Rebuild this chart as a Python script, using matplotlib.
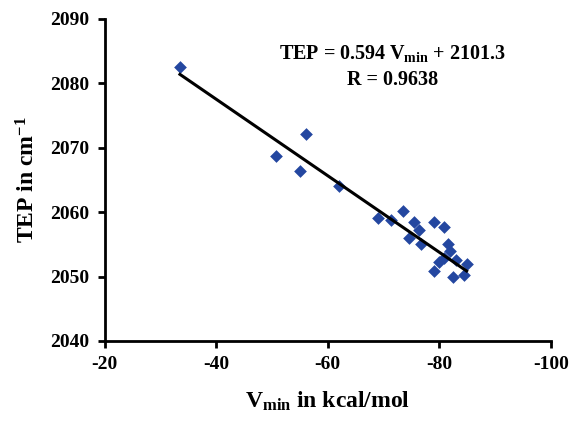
import numpy as np
import matplotlib
matplotlib.use("Agg")
import matplotlib.pyplot as plt

# V_min (kcal/mol) vs TEP (cm-1)
vmin = [-33.5, -50.7, -55.0, -56.1, -62.0, -69.0, -71.4, -73.5, -74.6, -75.4,
        -76.4, -76.8, -79.0, -80.8, -81.5, -82.0, -80.9, -80.0, -79.0, -82.5,
        -84.5, -84.9, -83.0]
tep = [2082.6, 2068.8, 2066.4, 2072.1, 2064.0, 2059.1, 2058.8, 2060.2, 2056.0, 2058.4,
       2057.2, 2055.0, 2058.4, 2057.7, 2055.0, 2053.9, 2052.9, 2052.3, 2050.8, 2050.0,
       2050.3, 2052.0, 2052.5]
slope = 0.594
intercept = 2101.3
r_value = 0.9638
xticks = [-20, -40, -60, -80, -100]
yticks = [2040, 2050, 2060, 2070, 2080, 2090]

plt.rcParams['font.family'] = 'Liberation Serif'
plt.rcParams['font.weight'] = 'bold'
plt.rcParams['axes.unicode_minus'] = False
plt.rcParams['mathtext.fontset'] = 'custom'
plt.rcParams['mathtext.rm'] = 'Liberation Serif:bold'
plt.rcParams['mathtext.bf'] = 'Liberation Serif:bold'
plt.rcParams['mathtext.it'] = 'Liberation Serif:bold'
plt.rcParams['mathtext.default'] = 'bf'

fig = plt.figure(figsize=(5.72, 4.22), dpi=100)
ax = fig.add_axes([0.183, 0.192, 0.78, 0.763])

ax.scatter(vmin, tep, marker='D', s=42, color='#2447a0', zorder=3, linewidths=0)

# regression line
xl = np.array([max(vmin), min(vmin)])
ax.plot(xl, slope * xl + intercept, color='black', lw=2.2, zorder=4)

ax.set_xlim(-20, -100)
ax.set_ylim(2040, 2090)
ax.set_xticks(xticks)
ax.set_yticks(yticks)
ax.tick_params(labelsize=14, width=2, length=5, direction='out', pad=6)
for lab in ax.get_xticklabels() + ax.get_yticklabels():
    lab.set_fontweight('bold')

for s in ['top', 'right']:
    ax.spines[s].set_visible(False)
for s in ['left', 'bottom']:
    ax.spines[s].set_linewidth(2)

ax.set_xlabel(r'V$_{\mathbf{min}}$ in kcal/mol', fontsize=17, fontweight='bold', labelpad=12)
ax.set_ylabel(r'TEP in cm$^{\mathbf{-1}}$', fontsize=17, fontweight='bold', labelpad=8)

ax.text(0.646, 0.894, r'TEP = 0.594 V$_{\mathbf{min}}$ + 2101.3', transform=ax.transAxes,
        ha='center', va='center', fontsize=14.5, fontweight='bold')
ax.text(0.646, 0.81, 'R = %.4f' % r_value, transform=ax.transAxes,
        ha='center', va='center', fontsize=14.5, fontweight='bold')

fig.savefig('out.png', dpi=100)
